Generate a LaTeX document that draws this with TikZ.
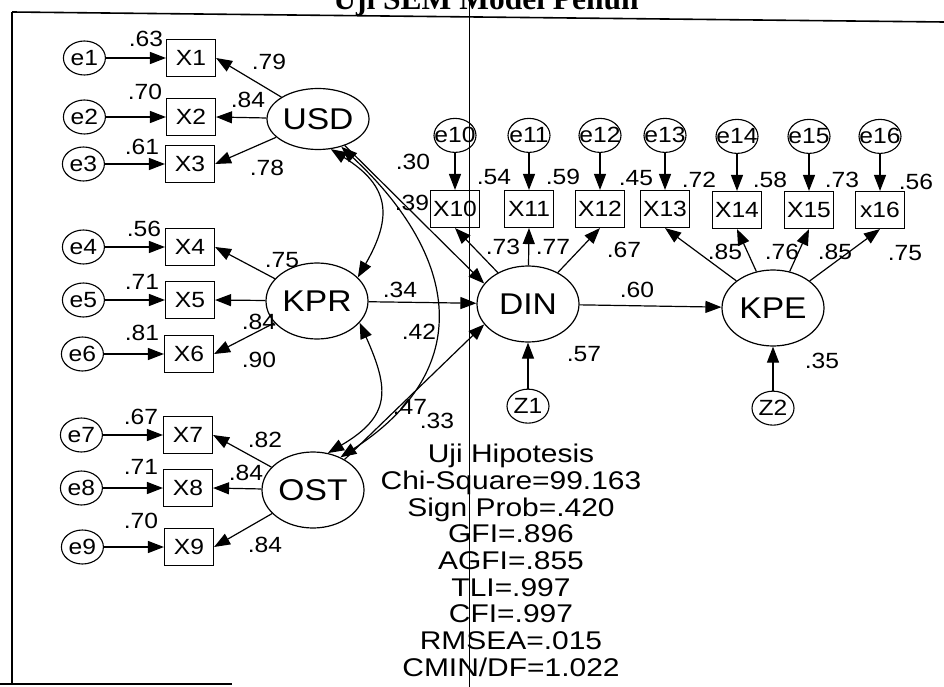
\documentclass[tikz,border=0pt]{standalone}
\usepackage{fontspec}
\setmainfont{Liberation Sans}[FakeStretch=1.12]
\newfontfamily\titlefont{Liberation Serif}
\newfontfamily\statfont{Liberation Sans}[FakeStretch=1.17]
\usetikzlibrary{arrows.meta,positioning,shapes.geometric}

\begin{document}
\begin{tikzpicture}[
  x=1pt, y=-1pt, >={Triangle[length=16pt,width=12pt]}, node distance=60pt,
  lat/.style={draw,ellipse,line width=1.2pt,inner sep=0pt,minimum width=102pt,minimum height=76pt,font=\fontsize{30}{30}\selectfont},
  obs/.style={draw,line width=1.1pt,inner sep=0pt,minimum width=49pt,minimum height=37pt,font=\fontsize{22}{22}\selectfont},
  err/.style={draw,ellipse,line width=1.1pt,inner xsep=-9pt,inner ysep=0pt,minimum width=42pt,minimum height=34pt,font=\fontsize{22}{22}\selectfont},
  lbl/.style={inner sep=0pt,font=\fontsize{22}{22}\selectfont},
  stat/.style={anchor=north,align=center,inner sep=0pt,font=\statfont\fontsize{25.6}{26.7}\selectfont},
  pth/.style={->,line width=1.2pt},
  cov/.style={<->,line width=1.2pt}]
\useasboundingbox (0,0) rectangle (944,687);
% page frame of the scan
\node[anchor=base,inner sep=0pt,font=\titlefont\bfseries\fontsize{31.5}{31.5}\selectfont] (title) at (486,10) {Uji SEM Model Penuh};
\draw[line width=1.6pt] (12,12) -- (944,22);
\draw[line width=1.4pt] (12,12) -- (12,684);
\draw[line width=1.4pt] (0,684) -- (232,684);
\draw[line width=0.6pt] (469,0) -- (469,687);

% latent variables
\node[lat,minimum height=61pt] (usd) at (318,119) {USD};
\node[lat] (kpr) at (317,301) {KPR};
\node[lat] (ost) at (313,490) {OST};
\node[lat] (din) at (528,304) {DIN};
\node[lat] (kpe) at (773,308) {KPE};

% indicators
\node[obs] (x1) at (191,58) {X1};
\node[obs] (x2) at (191,117) {X2};
\node[obs] (x3) at (190,164) {X3};
\node[obs] (x4) at (190,247) {X4};
\node[obs] (x5) at (190,300) {X5};
\node[obs] (x6) at (189,354) {X6};
\node[obs] (x7) at (188,435) {X7};
\node[obs] (x8) at (188,488) {X8};
\node[obs] (x9) at (189,547) {X9};
\node[obs] (x10) at (455,209) {X10};
\node[obs] (x11) at (529,209) {X11};
\node[obs] (x12) at (600,209) {X12};
\node[obs] (x13) at (665,209) {X13};
\node[obs] (x14) at (737,210) {X14};
\node[obs] (x15) at (809,210) {X15};
\node[obs] (x16) at (880,210) {x16};

% errors
\node[err,left=of x1] (e1) {e1};
\node[err,left=of x2] (e2) {e2};
\node[err,left=of x3] (e3) {e3};
\node[err,left=of x4] (e4) {e4};
\node[err,left=of x5] (e5) {e5};
\node[err,left=of x6] (e6) {e6};
\node[err,left=of x7] (e7) {e7};
\node[err,left=of x8] (e8) {e8};
\node[err,left=of x9] (e9) {e9};
\node[err,above=37pt of x10] (e10) {e10};
\node[err,above=37pt of x11] (e11) {e11};
\node[err,above=37pt of x12] (e12) {e12};
\node[err,above=37pt of x13] (e13) {e13};
\node[err,above=37pt of x14] (e14) {e14};
\node[err,above=37pt of x15] (e15) {e15};
\node[err,above=37pt of x16] (e16) {e16};
\node[err,below=46pt of din] (z1) {Z1};
\node[err,below=44pt of kpe] (z2) {Z2};

% error paths
\draw[pth] (e1) -- (x1);
\draw[pth] (e2) -- (x2);
\draw[pth] (e3) -- (x3);
\draw[pth] (e4) -- (x4);
\draw[pth] (e5) -- (x5);
\draw[pth] (e6) -- (x6);
\draw[pth] (e7) -- (x7);
\draw[pth] (e8) -- (x8);
\draw[pth] (e9) -- (x9);
\draw[pth] (e10) -- (x10);
\draw[pth] (e11) -- (x11);
\draw[pth] (e12) -- (x12);
\draw[pth] (e13) -- (x13);
\draw[pth] (e14) -- (x14);
\draw[pth] (e15) -- (x15);
\draw[pth] (e16) -- (x16);
\draw[pth] (z1) -- (din);
\draw[pth] (z2) -- (kpe);

% loadings
\draw[pth] (usd) -- (x1.east);
\draw[pth] (usd) -- (x2.east);
\draw[pth] (usd) -- (x3.east);
\draw[pth] (kpr) -- (x4.east);
\draw[pth] (kpr) -- (x5.east);
\draw[pth] (kpr) -- (x6.east);
\draw[pth] (ost) -- (x7.east);
\draw[pth] (ost) -- (x8.east);
\draw[pth] (ost) -- (x9.east);
\draw[pth] (din) -- (x10.south);
\draw[pth] (din) -- (x11.south);
\draw[pth] (din) -- (x12.south);
\draw[pth] (kpe) -- (x13.south);
\draw[pth] (kpe) -- (x14.south);
\draw[pth] (kpe) -- (x15.south);
\draw[pth] (kpe) -- (x16.south);

% structural paths and correlations
\draw[pth] (usd) -- (din.155);
\draw[pth] (kpr) -- (din);
\draw[pth] (ost) -- (din.205);
\draw[pth] (din) -- (kpe);
\draw[cov] (usd.-67) .. controls +(59,37) and +(35,-61) .. (kpr.30);
\draw[cov] (kpr.-27) .. controls +(30,67) and +(63,-37) .. (ost.68);
\draw[cov] (usd.-50) .. controls +(118,110) and +(136,-88) .. (ost.50);

% estimates
\node[lbl] (r1) at (146,39) {.63};
\node[lbl] (r2) at (145,92) {.70};
\node[lbl] (r3) at (142,147) {.61};
\node[lbl] (r4) at (144,229) {.56};
\node[lbl] (r5) at (142,282) {.71};
\node[lbl] (r6) at (142,333) {.81};
\node[lbl] (r7) at (141,417) {.67};
\node[lbl] (r8) at (141,467) {.71};
\node[lbl] (r9) at (141,521) {.70};
\node[lbl] (w1) at (269,62) {.79};
\node[lbl] (w2) at (248,100) {.84};
\node[lbl] (w3) at (267,168) {.78};
\node[lbl] (w4) at (282,260) {.75};
\node[lbl] (w5) at (259,322) {.84};
\node[lbl] (w6) at (259,360) {.90};
\node[lbl] (w7) at (265,440) {.82};
\node[lbl] (w8) at (246,473) {.84};
\node[lbl] (w9) at (265,545) {.84};
\node[lbl] (c1) at (413,162) {.30};
\node[lbl] (c2) at (412,203) {.39};
\node[lbl] (c3) at (400,290) {.34};
\node[lbl] (c4) at (419,332) {.42};
\node[lbl] (c5) at (410,407) {.47};
\node[lbl] (c6) at (437,421) {.33};
\node[lbl] (c7) at (637,290) {.60};
\node[lbl] (c8) at (584,354) {.57};
\node[lbl] (c9) at (822,361) {.35};
\node[lbl] (r10) at (494,177) {.54};
\node[lbl] (r11) at (563,177) {.59};
\node[lbl] (r12) at (636,178) {.45};
\node[lbl] (r13) at (699,180) {.72};
\node[lbl] (r14) at (770,180) {.58};
\node[lbl] (r15) at (842,180) {.73};
\node[lbl] (r16) at (916,182) {.56};
\node[lbl] (w10) at (503,247) {.73};
\node[lbl] (w11) at (553,247) {.77};
\node[lbl] (w12) at (624,250) {.67};
\node[lbl] (w13) at (725,252) {.85};
\node[lbl] (w14) at (782,252) {.76};
\node[lbl] (w15) at (835,252) {.85};
\node[lbl] (w16) at (905,253) {.75};

% fit indices
\node[stat] (fitidx) at (511,444) {Uji Hipotesis\\Chi-Square=99.163\\Sign Prob=.420\\GFI=.896\\AGFI=.855\\TLI=.997\\CFI=.997\\RMSEA=.015\\CMIN/DF=1.022};
\end{tikzpicture}
\end{document}
